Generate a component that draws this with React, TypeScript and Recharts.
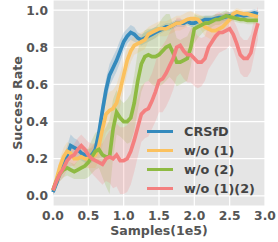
import { ComposedChart, Line, Area, XAxis, YAxis, CartesianGrid, Legend } from "recharts";

const samples = [
  0.0, 0.05, 0.1, 0.15, 0.2, 0.25, 0.3, 0.35, 0.4, 0.45, 0.5, 0.55, 0.6, 0.65, 0.7, 0.75, 0.8, 0.85, 0.9, 0.95,
  1.0, 1.05, 1.1, 1.15, 1.2, 1.25, 1.3, 1.35, 1.4, 1.45, 1.5, 1.55, 1.6, 1.65, 1.7, 1.75, 1.8, 1.85, 1.9, 1.95,
  2.0, 2.05, 2.1, 2.15, 2.2, 2.25, 2.3, 2.35, 2.4, 2.45, 2.5, 2.55, 2.6, 2.65, 2.7, 2.75, 2.8, 2.85, 2.9,
];

const crsfd = [
  0.02, 0.07, 0.13, 0.17, 0.22, 0.27, 0.26, 0.25, 0.23, 0.22, 0.21, 0.22, 0.25, 0.34, 0.46, 0.57, 0.65, 0.69, 0.73, 0.78,
  0.83, 0.86, 0.88, 0.87, 0.85, 0.84, 0.85, 0.86, 0.87, 0.88, 0.89, 0.9, 0.91, 0.91, 0.92, 0.93, 0.93, 0.93, 0.94, 0.93,
  0.93, 0.94, 0.94, 0.95, 0.95, 0.95, 0.955, 0.96, 0.96, 0.965, 0.97, 0.97, 0.975, 0.975, 0.97, 0.975, 0.98, 0.985, 0.98,
];
const woOne = [
  0.03, 0.09, 0.16, 0.21, 0.24, 0.23, 0.2, 0.2, 0.21, 0.2, 0.2, 0.21, 0.22, 0.27, 0.36, 0.44, 0.46, 0.47, 0.5, 0.57,
  0.65, 0.73, 0.78, 0.81, 0.82, 0.83, 0.84, 0.87, 0.88, 0.89, 0.9, 0.9, 0.9, 0.91, 0.92, 0.93, 0.93, 0.94, 0.95, 0.955,
  0.955, 0.95, 0.93, 0.91, 0.9, 0.89, 0.89, 0.9, 0.91, 0.93, 0.95, 0.98, 0.99, 0.985, 0.98, 0.98, 0.975, 0.97, 0.965,
];
const woTwo = [
  0.03, 0.08, 0.12, 0.14, 0.15, 0.14, 0.13, 0.14, 0.15, 0.16, 0.18, 0.21, 0.24, 0.25, 0.22, 0.21, 0.21, 0.36, 0.45, 0.42,
  0.4, 0.4, 0.42, 0.5, 0.62, 0.71, 0.75, 0.76, 0.75, 0.75, 0.76, 0.78, 0.8, 0.81, 0.77, 0.72, 0.72, 0.73, 0.74, 0.8,
  0.9, 0.91, 0.92, 0.93, 0.93, 0.94, 0.95, 0.95, 0.96, 0.97, 0.965, 0.96, 0.955, 0.95, 0.95, 0.945, 0.945, 0.945, 0.945,
];
const woBoth = [
  0.03, 0.08, 0.12, 0.15, 0.19, 0.21, 0.22, 0.25, 0.27, 0.25, 0.22, 0.2, 0.19, 0.18, 0.17, 0.2, 0.21, 0.2, 0.22, 0.19,
  0.19, 0.2, 0.24, 0.3, 0.37, 0.44, 0.46, 0.47, 0.51, 0.56, 0.62, 0.63, 0.66, 0.7, 0.74, 0.8, 0.81, 0.78, 0.76, 0.76,
  0.74, 0.72, 0.72, 0.74, 0.8, 0.83, 0.86, 0.88, 0.88, 0.89, 0.9, 0.87, 0.82, 0.76, 0.74, 0.74, 0.77, 0.86, 0.93,
];

// half-width of the shaded band around each mean
const crsfdSpread = [
  0.02, 0.03, 0.04, 0.04, 0.05, 0.06, 0.05, 0.05, 0.04, 0.04, 0.04, 0.04, 0.04, 0.05, 0.06, 0.06, 0.06, 0.06, 0.06, 0.06,
  0.05, 0.04, 0.04, 0.04, 0.03, 0.03, 0.03, 0.03, 0.03, 0.03, 0.02, 0.02, 0.02, 0.02, 0.02, 0.02, 0.02, 0.02, 0.02, 0.02,
  0.02, 0.02, 0.02, 0.02, 0.02, 0.02, 0.02, 0.02, 0.02, 0.02, 0.02, 0.02, 0.02, 0.02, 0.02, 0.02, 0.02, 0.02, 0.02,
];
const woOneSpread = [
  0.02, 0.03, 0.04, 0.05, 0.05, 0.05, 0.05, 0.05, 0.05, 0.05, 0.05, 0.06, 0.07, 0.08, 0.09, 0.1, 0.1, 0.1, 0.1, 0.09,
  0.08, 0.07, 0.06, 0.05, 0.05, 0.05, 0.05, 0.04, 0.04, 0.04, 0.04, 0.04, 0.04, 0.04, 0.04, 0.04, 0.04, 0.04, 0.04, 0.04,
  0.03, 0.03, 0.04, 0.05, 0.05, 0.05, 0.05, 0.04, 0.04, 0.04, 0.03, 0.02, 0.02, 0.02, 0.02, 0.02, 0.02, 0.02, 0.02,
];
const woTwoSpread = [
  0.02, 0.03, 0.04, 0.04, 0.04, 0.04, 0.04, 0.05, 0.06, 0.07, 0.08, 0.09, 0.1, 0.1, 0.12, 0.16, 0.2, 0.16, 0.12, 0.1,
  0.1, 0.12, 0.13, 0.15, 0.16, 0.15, 0.14, 0.14, 0.15, 0.16, 0.17, 0.18, 0.18, 0.17, 0.15, 0.13, 0.12, 0.12, 0.12, 0.1,
  0.08, 0.06, 0.05, 0.04, 0.04, 0.03, 0.03, 0.03, 0.03, 0.03, 0.02, 0.02, 0.02, 0.02, 0.02, 0.02, 0.02, 0.02, 0.02,
];
const woBothSpread = [
  0.02, 0.03, 0.04, 0.05, 0.05, 0.05, 0.06, 0.06, 0.06, 0.06, 0.07, 0.08, 0.09, 0.1, 0.11, 0.12, 0.14, 0.16, 0.17, 0.18,
  0.18, 0.18, 0.18, 0.17, 0.16, 0.15, 0.15, 0.15, 0.15, 0.16, 0.17, 0.18, 0.18, 0.18, 0.17, 0.16, 0.15, 0.15, 0.15, 0.15,
  0.15, 0.14, 0.13, 0.12, 0.12, 0.12, 0.12, 0.11, 0.1, 0.1, 0.09, 0.08, 0.09, 0.1, 0.1, 0.1, 0.1, 0.1, 0.09,
];

const xTicks = [0, 0.5, 1, 1.5, 2, 2.5, 3];
const yTicks = [0, 0.2, 0.4, 0.6, 0.8, 1.0];

const SERIES = [
  { key: "crsfd", name: "CRSfD", color: "#348abd", mean: crsfd, spread: crsfdSpread },
  { key: "woOne", name: "w/o (1)", color: "#fbc15e", mean: woOne, spread: woOneSpread },
  { key: "woTwo", name: "w/o (2)", color: "#8eba42", mean: woTwo, spread: woTwoSpread },
  { key: "woBoth", name: "w/o (1)(2)", color: "#f47f7f", mean: woBoth, spread: woBothSpread },
];

const data = samples.map((x, i) => {
  const row: any = { x };
  SERIES.forEach((s) => {
    row[s.key] = s.mean[i];
    row[s.key + "Band"] = [s.mean[i] - s.spread[i], s.mean[i] + s.spread[i]];
  });
  return row;
});

const FONT = "'DejaVu Sans', sans-serif";
const tickStyle = { fill: "#555555", fontSize: 12.3, fontWeight: "bold", fontFamily: FONT };
const labelStyle = { fill: "#555555", fontSize: 12.6, fontWeight: "bold", fontFamily: FONT };

const renderLegend = () => (
  <div style={{ fontFamily: FONT, fontWeight: "bold", fontSize: 12.8, color: "#444444" }}>
    {SERIES.map((s) => (
      <div key={s.key} style={{ display: "flex", alignItems: "center", height: 19 }}>
        <span style={{ display: "inline-block", width: 26, height: 3.5, background: s.color, marginRight: 11 }} />
        {s.name}
      </div>
    ))}
  </div>
);

export default function App() {
  return (
    <div style={{ position: "absolute", left: 0, top: 0, background: "#fff" }}>
      <ComposedChart width={278} height={242} data={data} margin={{ top: 0, right: 13, bottom: 0, left: 0 }}>
        <CartesianGrid fill="#e5e5e5" stroke="#ffffff" strokeWidth={1.2} />
        <XAxis
          dataKey="x"
          type="number"
          domain={[0, 3]}
          ticks={xTicks}
          height={36}
          axisLine={false}
          tickLine={false}
          tickSize={0}
          tickMargin={5}
          tickFormatter={(v: number) => v.toFixed(1)}
          tick={tickStyle}
          label={{ value: "Samples(1e5)", position: "insideBottom", offset: 7, style: labelStyle }}
        />
        <YAxis
          type="number"
          domain={[-0.055, 1.055]}
          ticks={yTicks}
          width={53}
          axisLine={false}
          tickLine={false}
          tickSize={0}
          tickMargin={5}
          tickFormatter={(v: number) => v.toFixed(1)}
          tick={tickStyle}
          label={{ value: "Success Rate", angle: -90, position: "center", dx: -9, style: labelStyle }}
        />
        {SERIES.map((s) => (
          <Area
            key={s.key + "Band"}
            dataKey={s.key + "Band"}
            stroke="none"
            fill={s.color}
            fillOpacity={0.22}
            isAnimationActive={false}
            legendType="none"
          />
        ))}
        {SERIES.map((s) => (
          <Line
            key={s.key}
            dataKey={s.key}
            name={s.name}
            stroke={s.color}
            strokeWidth={3.7}
            dot={false}
            isAnimationActive={false}
          />
        ))}
        <Legend
          layout="vertical"
          align="center"
          verticalAlign="middle"
          content={renderLegend}
          wrapperStyle={{ left: 147, top: 122, width: 125 }}
        />
      </ComposedChart>
    </div>
  );
}
